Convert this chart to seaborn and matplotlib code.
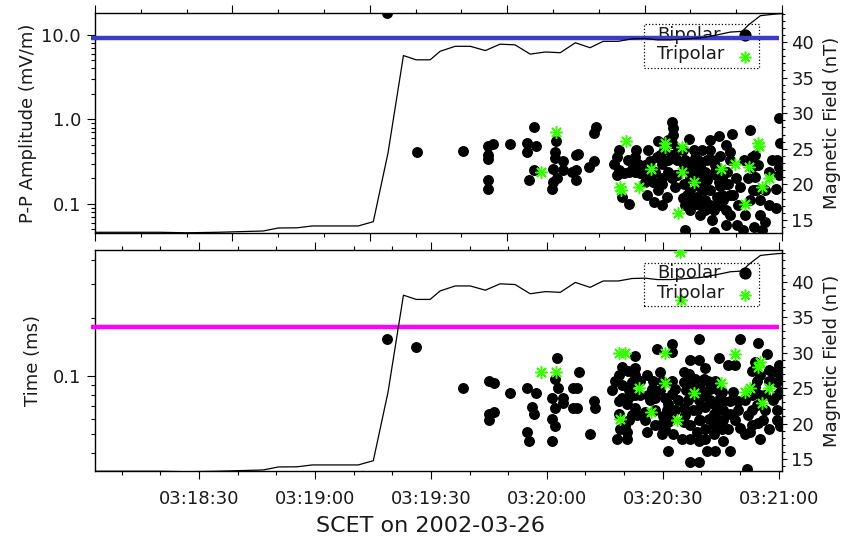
import numpy as np
import pandas as pd
import matplotlib
matplotlib.use("Agg")
import matplotlib.pyplot as plt
import matplotlib.dates as mdates
from matplotlib.patches import Rectangle
from matplotlib.ticker import (FixedLocator, FixedFormatter, NullFormatter,
                               LogLocator, MultipleLocator)
import seaborn as sns

# ---------------------------------------------------------------- data
day_start = pd.Timestamp("2002-03-26 03:18:00")

# magnetic field magnitude: seconds after 03:18:00, nT
b_sec = [3.1, 19.9, 26.9, 34.7, 46.6, 50.5, 55.4, 59.3, 71.2, 75.1,
         78.9, 82.9, 86.2, 89.8, 92.4, 96.3, 100.2, 104.1, 107.9, 111.8,
         115.7, 119.6, 123.5, 127.4, 131.2, 134.6, 138.5, 142.1, 145.5, 148.6,
         152.0, 155.0, 160.0, 164.1, 167.5, 170.6, 172.2, 175.3, 178.6, 180.9]
b_nt = [13.27, 13.27, 13.2, 13.27, 13.45, 13.87, 13.9, 14.16, 14.16, 14.76,
        24.4, 38.1, 37.5, 37.5, 38.7, 39.4, 39.4, 38.8, 39.7, 39.6,
        38.3, 38.6, 38.5, 39.9, 39.2, 40.1, 40.1, 40.45, 40.5, 40.3,
        40.3, 40.4, 40.6, 41.0, 41.4, 41.5, 42.4, 43.7, 43.9, 44.0]

# peak-to-peak amplitude (mV/m)
amp_bi_sec = [78.6, 86.4, 98.3, 104.9, 106.2, 104.9, 104.9, 104.9, 104.9, 110.5,
              116.7, 115.0, 117.2, 115.0, 116.6, 115.3, 122.5, 122.2, 122.2, 124.2,
              124.2, 121.7, 122.6, 121.6, 121.3, 127.6, 127.6, 127.6, 126.5, 132.7,
              132.1, 128.2, 132.1, 131.0, 138.6, 138.1, 142.9, 143.7, 142.4, 141.2,
              138.6, 138.1, 139.9, 142.9, 144.2, 139.4, 141.3, 145.9, 147.8, 151.1,
              145.5, 147.6, 148.9, 148.5, 146.8, 145.9, 149.8, 151.5, 152.4, 153.2,
              153.7, 152.4, 152.4, 152.8, 152.8, 152.4, 180.2, 172.7, 167.9, 164.5,
              162.3, 156.9, 158.0, 155.8, 157.6, 159.7, 162.3, 162.7, 164.9, 167.5,
              167.5, 166.6, 165.3, 163.2, 161.4, 159.7, 157.1, 155.4, 162.3, 164.0,
              161.0, 158.9, 163.2, 161.0, 165.7, 170.1, 173.1, 173.1, 173.9, 173.5,
              175.2, 177.4, 179.6, 180.4, 180.0, 179.3, 179.3, 175.2, 167.5, 169.2,
              173.7, 175.7, 170.9, 163.2, 155.8, 158.4, 164.9, 167.5, 159.7, 156.7,
              164.9, 176.5, 155.8, 155.3, 156.6, 158.4, 160.2, 161.0, 159.7, 163.6,
              164.5, 166.3, 168.9, 168.1, 169.6, 166.3, 164.5, 157.8, 156.3, 159.7,
              162.8, 166.3, 171.4, 172.2, 171.1, 177.6, 176.5, 166.4, 153.8, 149.9,
              148.8, 143.1, 141.1, 137.4, 150.4, 149.9, 155.6, 157.1, 159.2, 161.5,
              160.7, 163.8, 165.3, 166.9, 157.1, 162.3, 158.8, 155.3, 173.9, 174.2,
              172.7, 174.8, 178.3, 180.1, 146.2, 149.4, 151.4, 145.5, 148.1, 149.9,
              153.2, 154.0, 151.3]
amp_bi = [18.0, 0.41, 0.42, 0.48, 0.51, 0.38, 0.34, 0.19, 0.15, 0.51,
          0.81, 0.53, 0.48, 0.41, 0.25, 0.19, 0.55, 0.41, 0.35, 0.32,
          0.25, 0.26, 0.20, 0.18, 0.15, 0.38, 0.25, 0.19, 0.24, 0.81,
          0.69, 0.39, 0.32, 0.27, 0.435, 0.36, 0.36, 0.30, 0.29, 0.24,
          0.25, 0.22, 0.23, 0.24, 0.23, 0.12, 0.10, 0.128, 0.106, 0.12,
          0.18, 0.18, 0.55, 0.36, 0.32, 0.22, 0.30, 0.24, 0.20, 0.16,
          0.33, 0.38, 0.94, 0.80, 0.66, 0.52, 1.03, 0.75, 0.67, 0.63,
          0.57, 0.58, 0.435, 0.33, 0.30, 0.28, 0.435, 0.33, 0.37, 0.41,
          0.33, 0.24, 0.20, 0.23, 0.19, 0.16, 0.147, 0.17, 0.147, 0.12,
          0.11, 0.12, 0.085, 0.085, 0.11, 0.16, 0.36, 0.27, 0.21, 0.147,
          0.11, 0.24, 0.33, 0.52, 0.27, 0.15, 0.089, 0.074, 0.074, 0.056,
          0.054, 0.049, 0.049, 0.047, 0.049, 0.22, 0.163, 0.128, 0.097, 0.11,
          0.097, 0.147, 0.097, 0.435, 0.25, 0.35, 0.435, 0.24, 0.20, 0.29,
          0.18, 0.17, 0.20, 0.128, 0.098, 0.085, 0.10, 0.098, 0.128, 0.074,
          0.065, 0.057, 0.074, 0.20, 0.33, 0.098, 0.061, 0.50, 0.22, 0.20,
          0.147, 0.435, 0.33, 0.30, 0.435, 0.097, 0.29, 0.20, 0.33, 0.33,
          0.147, 0.22, 0.128, 0.17, 0.085, 0.097, 0.25, 0.118, 0.38, 0.147,
          0.111, 0.29, 0.33, 0.22, 0.435, 0.38, 0.33, 0.29, 0.24, 0.17,
          0.22, 0.435, 0.57]
amp_tri_sec = [122.4, 118.6, 140.5, 139.0, 139.3, 143.9, 150.6, 150.6, 147.0, 154.0,
               155.0, 174.8, 175.0, 155.0, 158.0, 165.1, 168.6, 172.3, 177.4, 175.7,
               171.4]
amp_tri = [0.71, 0.24, 0.56, 0.16, 0.145, 0.16, 0.53, 0.47, 0.26, 0.078,
           0.47, 0.53, 0.48, 0.24, 0.18, 0.26, 0.30, 0.27, 0.20, 0.16,
           0.10]

# structure duration (ms)
dur_bi_sec = [78.6, 86.2, 98.3, 105.0, 106.4, 105.0, 106.4, 105.0, 110.5, 115.0,
              117.2, 116.3, 116.7, 115.0, 115.5, 122.6, 122.2, 122.8, 121.3, 124.3,
              124.3, 122.2, 126.9, 126.9, 121.3, 122.2, 121.3, 128.4, 127.8, 127.8,
              132.1, 132.5, 131.2, 142.9, 148.5, 152.5, 152.4, 139.4, 138.6, 142.9,
              142.9, 145.9, 147.6, 147.2, 149.8, 152.4, 153.2, 148.1, 150.6, 151.5,
              152.4, 151.1, 151.5, 153.2, 150.2, 141.2, 141.2, 138.6, 140.8, 142.9,
              143.3, 141.2, 138.6, 140.3, 140.8, 138.1, 140.8, 145.9, 148.1, 149.8,
              152.8, 151.5, 159.5, 170.1, 174.8, 177.1, 159.5, 164.5, 167.0, 168.8,
              173.9, 180.2, 175.1, 177.4, 180.4, 179.6, 155.4, 156.7, 158.4, 160.6,
              155.4, 162.3, 161.0, 159.3, 162.3, 165.3, 168.3, 165.7, 167.5, 169.6,
              161.0, 158.9, 163.2, 165.7, 169.6, 173.1, 173.1, 174.4, 176.5, 179.6,
              179.6, 180.4, 174.8, 173.1, 161.9, 164.0, 165.7, 159.3, 163.2, 158.9,
              163.2, 171.4, 155.4, 155.4, 155.0, 159.3, 165.7, 175.2, 161.4, 163.6,
              167.5, 157.1, 159.5, 171.8, 173.9, 157.1, 159.7, 163.6, 171.4, 172.2,
              168.8, 167.0, 161.0, 157.1, 156.6, 157.9, 164.9, 167.5, 170.1, 176.5,
              177.6, 179.7, 149.4, 146.2, 145.5, 149.4, 144.2, 142.1, 139.5, 136.9,
              160.9, 157.1, 177.6, 156.1, 158.4, 161.8, 164.4, 159.7, 163.6, 165.4,
              157.1, 161.0, 155.8, 173.2, 175.2, 176.0, 172.7, 174.5, 178.6, 180.4,
              178.6, 137.7, 141.1, 144.2, 139.5, 142.1, 139.0, 142.9, 146.8, 149.4,
              152.0, 148.1, 154.0, 145.5, 150.7]
dur_bi = [0.156, 0.142, 0.087, 0.095, 0.092, 0.064, 0.065, 0.059, 0.082, 0.087,
          0.082, 0.069, 0.064, 0.051, 0.046, 0.124, 0.097, 0.087, 0.077, 0.077,
          0.073, 0.068, 0.087, 0.068, 0.060, 0.055, 0.046, 0.105, 0.087, 0.068,
          0.074, 0.068, 0.050, 0.128, 0.139, 0.147, 0.133, 0.111, 0.101, 0.110,
          0.101, 0.101, 0.095, 0.086, 0.095, 0.095, 0.086, 0.077, 0.077, 0.072,
          0.081, 0.067, 0.058, 0.067, 0.062, 0.085, 0.078, 0.074, 0.072, 0.068,
          0.063, 0.059, 0.064, 0.055, 0.051, 0.047, 0.047, 0.051, 0.056, 0.050,
          0.050, 0.041, 0.156, 0.156, 0.148, 0.131, 0.122, 0.124, 0.115, 0.115,
          0.119, 0.115, 0.101, 0.108, 0.103, 0.093, 0.105, 0.103, 0.097, 0.097,
          0.093, 0.086, 0.080, 0.075, 0.075, 0.083, 0.083, 0.074, 0.074, 0.074,
          0.069, 0.067, 0.064, 0.067, 0.067, 0.080, 0.067, 0.071, 0.067, 0.067,
          0.059, 0.055, 0.057, 0.056, 0.060, 0.060, 0.059, 0.059, 0.056, 0.051,
          0.050, 0.050, 0.068, 0.058, 0.047, 0.046, 0.046, 0.047, 0.041, 0.041,
          0.041, 0.036, 0.036, 0.033, 0.088, 0.090, 0.087, 0.095, 0.075, 0.063,
          0.059, 0.053, 0.053, 0.056, 0.075, 0.067, 0.077, 0.064, 0.054, 0.080,
          0.095, 0.080, 0.105, 0.080, 0.065, 0.056, 0.080, 0.093, 0.090, 0.085,
          0.110, 0.121, 0.053, 0.085, 0.080, 0.095, 0.085, 0.059, 0.071, 0.053,
          0.047, 0.047, 0.063, 0.107, 0.080, 0.059, 0.051, 0.095, 0.075, 0.083,
          0.105, 0.095, 0.107, 0.095, 0.077, 0.063, 0.053, 0.080, 0.075, 0.085,
          0.063, 0.067, 0.075, 0.059, 0.053]
dur_tri_sec = [118.6, 122.5, 138.6, 140.3, 150.6, 143.9, 150.6, 139.0, 147.0, 153.7,
               154.5, 154.7, 168.8, 175.1, 174.6, 165.1, 158.0, 171.4, 172.5, 177.4,
               175.7]
dur_tri = [0.105, 0.105, 0.132, 0.132, 0.132, 0.087, 0.092, 0.060, 0.065, 0.059,
           0.44, 0.25, 0.130, 0.119, 0.111, 0.092, 0.082, 0.083, 0.087, 0.087,
           0.073]

# thresholds drawn across each panel
amp_limit = 9.1      # mV/m
dur_limit = 0.18     # ms
limit_start_sec, limit_end_sec = 2.0, 180.0

# axis ranges
x_range_sec = (3.07, 180.9)
amp_range = (0.045, 18.1)
dur_range = (0.0323, 0.45)
b_range_top = (13.13, 44.08)
b_range_bottom = (13.35, 44.4)

legend_labels = ["Bipolar", "Tripolar"]


def to_time(sec):
    return day_start + pd.to_timedelta(np.asarray(sec, dtype=float), unit="s")


# ---------------------------------------------------------------- style
sns.set_theme(style="white")
plt.rcParams["font.family"] = ["DejaVu Sans"]
text_color = "#1a1a1a"
plt.rcParams.update({
    "text.color": text_color,
    "axes.labelcolor": text_color,
    "xtick.color": "black",
    "ytick.color": "black",
    "xtick.labelcolor": text_color,
    "ytick.labelcolor": text_color,
    "axes.edgecolor": "black",
    "axes.linewidth": 1.0,
})

GREEN = "#33ff00"
BLUE = "#3b3bc8"
MAGENTA = "#ff00ff"
DOT_S = 62
STAR = (8, 2, 0)
STAR_S = 72
FS = 13

fig = plt.figure(figsize=(8.44, 5.48), dpi=100)
ax_top = fig.add_axes([0.1126, 0.5743, 0.8140, 0.4020])
ax_bot = fig.add_axes([0.1126, 0.1411, 0.8140, 0.4018])

t0, t1 = to_time(x_range_sec[0]), to_time(x_range_sec[1])


def draw_key(ax, box_y, row_y, mark_y):
    """Dotted key box with text first and the symbol on the right."""
    x0, x1 = 0.799, 0.9665
    ax.add_patch(Rectangle((x0, box_y[0]), x1 - x0, box_y[1] - box_y[0],
                           transform=ax.transAxes, fill=False, ls=":",
                           lw=0.9, ec="black", zorder=5))
    for label, ty in zip(legend_labels, row_y):
        ax.text(0.818, ty, label, transform=ax.transAxes, fontsize=FS,
                ha="left", va="center", zorder=5)
    ax.plot([0.946], [mark_y[0]], transform=ax.transAxes, ls="", marker="o",
            color="black", markersize=7.8, zorder=5, clip_on=False)
    ax.plot([0.946], [mark_y[1]], transform=ax.transAxes, ls="", marker=STAR,
            color=GREEN, markersize=8.5, markeredgewidth=1.1, zorder=5,
            clip_on=False)


def draw_panel(ax, bi_sec, bi_val, tri_sec, tri_val, limit, limit_color,
               yrange, brange, key):
    ax.set_yscale("log")
    sns.scatterplot(x=to_time(bi_sec), y=bi_val, ax=ax, color="black",
                    s=DOT_S, linewidth=0, legend=False, zorder=3)
    sns.scatterplot(x=to_time(tri_sec), y=tri_val, ax=ax, color=GREEN,
                    marker=STAR, s=STAR_S, linewidth=1.1, legend=False,
                    zorder=4)
    ax.hlines(limit, to_time([limit_start_sec])[0], to_time([limit_end_sec])[0],
              color=limit_color, lw=3.2, clip_on=False, zorder=6)
    ax.set_xlim(t0, t1)
    ax.set_ylim(*yrange)
    draw_key(ax, *key)

    ax2 = ax.twinx()
    sns.lineplot(x=to_time(b_sec), y=b_nt, ax=ax2, color="black", lw=0.9,
                 estimator=None, sort=False, legend=False)
    ax2.set_ylim(*brange)
    ax2.set_xlim(t0, t1)
    ax2.yaxis.set_major_locator(MultipleLocator(5))
    ax2.yaxis.set_minor_locator(MultipleLocator(1))
    ax2.tick_params(axis="y", which="major", direction="out", length=3.8,
                    width=0.8, labelsize=FS, pad=3.0)
    ax2.tick_params(axis="y", which="minor", direction="out", length=2.0,
                    width=0.8)
    ax2.set_ylabel("Magnetic Field (nT)", fontsize=FS)
    ax2.yaxis.set_label_coords(1.0597, 0.5)
    for s in ax2.spines.values():
        s.set_visible(False)

    ax.tick_params(axis="y", which="major", direction="out", length=5.6,
                   width=0.8, labelsize=FS, pad=4.5)
    ax.tick_params(axis="y", which="minor", direction="out", length=3.0,
                   width=0.8)
    ax.tick_params(axis="x", which="major", direction="out", length=5.6,
                   width=0.8, labelsize=FS, pad=8.5, top=True, bottom=True)
    ax.tick_params(axis="x", which="minor", direction="out", length=3.0,
                   width=0.8, top=True, bottom=True)
    ax.yaxis.set_minor_locator(LogLocator(base=10, subs=np.arange(2, 10),
                                          numticks=20))
    ax.yaxis.set_minor_formatter(NullFormatter())
    for s in ax.spines.values():
        s.set_visible(True)
        s.set_color("black")
        s.set_linewidth(1.0)
    return ax2


ax2_top = draw_panel(ax_top, amp_bi_sec, amp_bi, amp_tri_sec, amp_tri,
                     amp_limit, BLUE, amp_range, b_range_top,
                     ((0.7514, 0.951), (0.899, 0.812), (0.899, 0.800)))
ax2_bot = draw_panel(ax_bot, dur_bi_sec, dur_bi, dur_tri_sec, dur_tri,
                     dur_limit, MAGENTA, dur_range, b_range_bottom,
                     ((0.748, 0.945), (0.897, 0.806), (0.897, 0.797)))

# upper panel: unlabeled, evenly divided time ticks
x0n, x1n = mdates.date2num(t0), mdates.date2num(t1)
ax_top.xaxis.set_major_locator(FixedLocator(np.linspace(x0n, x1n, 6)))
ax_top.xaxis.set_minor_locator(FixedLocator(np.linspace(x0n, x1n, 16)))
ax_top.xaxis.set_major_formatter(NullFormatter())
ax_top.yaxis.set_major_locator(FixedLocator([0.1, 1.0, 10.0]))
ax_top.yaxis.set_major_formatter(FixedFormatter(["0.1", "1.0", "10.0"]))
ax_top.set_xlabel("")
ax_top.set_ylabel("P-P Amplitude (mV/m)", fontsize=FS)
ax_top.yaxis.set_label_coords(-0.0844, 0.5)

# lower panel: clock-time axis
ax_bot.xaxis.set_major_locator(mdates.SecondLocator(bysecond=[0, 30]))
ax_bot.xaxis.set_minor_locator(mdates.SecondLocator(bysecond=range(0, 60, 10)))
ax_bot.xaxis.set_major_formatter(mdates.DateFormatter("%H:%M:%S"))
ax_bot.yaxis.set_major_locator(FixedLocator([0.1]))
ax_bot.yaxis.set_major_formatter(FixedFormatter(["0.1"]))
ax_bot.set_ylabel("Time (ms)", fontsize=FS)
ax_bot.yaxis.set_label_coords(-0.0771, 0.5)
ax_bot.set_xlabel("SCET on 2002-03-26", fontsize=16)
ax_bot.xaxis.set_label_coords(0.4876, -0.205)

fig.savefig("out.png", dpi=100, facecolor="white")
